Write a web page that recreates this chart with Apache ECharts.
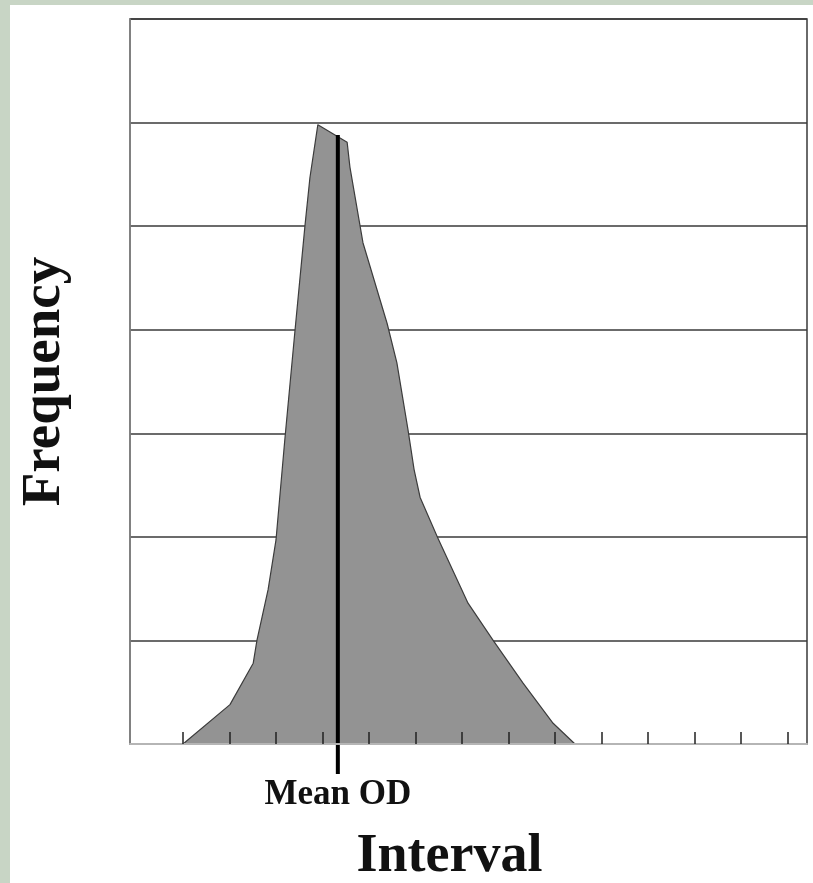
<!DOCTYPE html>
<html>
<head>
<meta charset="utf-8">
<script src="https://cdn.jsdelivr.net/npm/echarts@6/dist/echarts.min.js"></script>
<style>
html,body{margin:0;padding:0;background:#fff;}
#chart{width:813px;height:883px;}
</style>
</head>
<body>
<div id="chart"></div>
<script>
// Tick positions on the Interval axis (unlabelled)
const xTicks = [0,1,2,3,4,5,6,7,8,9,10,11,12,13];
// Frequency distribution outline (Interval, Frequency)
const curveX = [0, 1.01, 1.51, 1.59, 1.83, 2.00, 2.19, 2.41, 2.62, 2.73, 2.90, 3.53, 3.59, 3.87, 4.39, 4.60, 4.84, 4.97, 5.10, 5.48, 6.13, 6.67, 7.31, 7.96, 8.43];
const curveY = [0, 0.38, 0.78, 1.00, 1.49, 1.97, 2.94, 4.00, 4.99, 5.47, 5.98, 5.81, 5.57, 4.84, 4.06, 3.68, 3.03, 2.65, 2.38, 1.99, 1.36, 1.00, 0.59, 0.20, 0];
// Mean OD marker
const meanX = 3.33;
const meanLineY = [-0.29, 5.88];
const meanLabel = 'Mean OD';
const xName = 'Interval';
const yName = 'Frequency';

const serif = "'Liberation Serif', 'Times New Roman', 'DejaVu Serif', serif";

const curveData = curveX.map((x, i) => [x, curveY[i]]);
const meanData = meanLineY.map((y, i) => i === 0
  ? {value: [meanX, y], label: {show: true, position: 'bottom', distance: 3, formatter: meanLabel,
      fontFamily: serif, fontWeight: 'bold', fontSize: 35, color: '#111'}}
  : {value: [meanX, y]});

const chart = echarts.init(document.getElementById('chart'), null, {renderer: 'canvas'});
chart.setOption({
  backgroundColor: '#ffffff',
  animation: false,
  graphic: [
    {type: 'rect', left: 0, top: 0, shape: {width: 10, height: 883}, style: {fill: '#c8d5c5'}, z: 100},
    {type: 'rect', left: 0, top: 0, shape: {width: 813, height: 5}, style: {fill: '#c8d5c5'}, z: 100}
  ],
  grid: {left: 130, right: 6, top: 19, bottom: 139, outerBoundsMode: 'none', containLabel: false,
    show: true, borderColor: '#3a3a3a', borderWidth: 1.5, backgroundColor: 'transparent'},
  xAxis: {
    type: 'value', min: -1.14, max: 13.42, z: 5,
    name: xName, nameLocation: 'middle', nameGap: 86,
    nameTextStyle: {fontFamily: serif, fontWeight: 'bold', fontSize: 54, color: '#111', padding: [0, 38, 0, 0]},
    axisLine: {show: true, onZero: false, lineStyle: {color: '#b5b5b5', width: 2}},
    axisTick: {show: true, inside: true, length: 12, customValues: xTicks, lineStyle: {color: '#222', width: 1.5}},
    axisLabel: {show: false},
    splitLine: {show: false}
  },
  yAxis: {
    type: 'value', min: 0, max: 7, interval: 1,
    name: yName, nameLocation: 'middle', nameGap: 58, nameRotate: 90,
    nameTextStyle: {fontFamily: serif, fontWeight: 'bold', fontSize: 55, color: '#111'},
    axisLine: {show: true, onZero: false, lineStyle: {color: '#8a8a8a', width: 1.5}},
    axisTick: {show: false},
    axisLabel: {show: false},
    splitLine: {show: true, lineStyle: {color: '#3a3a3a', width: 1.5}}
  },
  series: [
    {
      type: 'line', data: curveData, symbol: 'none', smooth: false, z: 2,
      lineStyle: {color: '#3c3c3c', width: 1.2},
      areaStyle: {color: '#939393', opacity: 1}
    },
    {
      type: 'line', data: meanData, symbol: 'circle', symbolSize: 0, clip: false, z: 3,
      lineStyle: {color: '#000', width: 4}
    }
  ]
});
</script>
</body>
</html>
